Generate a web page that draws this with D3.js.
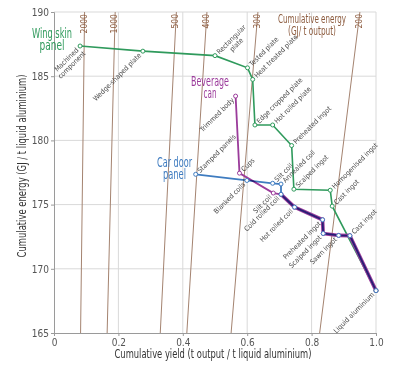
<!DOCTYPE html>
<html><head><meta charset="utf-8">
<script src="https://cdn.jsdelivr.net/npm/d3@7"></script>
<style>
body{margin:0;background:#fff;}
svg{display:block;font-family:"Liberation Sans Narrow","DejaVu Sans Condensed","Roboto",sans-serif;}
</style></head>
<body><svg id="chart" width="400" height="378"></svg>
<script>
// ---- data ----
const xTicks = [0, 0.2, 0.4, 0.6, 0.8, 1.0];
const xTickLabels = ["0", "0.2", "0.4", "0.6", "0.8", "1.0"];
const yTicks = [165, 170, 175, 180, 185, 190];
const yTickLabels = ["165", "170", "175", "180", "185", "190"];
const isoEnergies = [2000, 1000, 500, 400, 300, 200];

const wingNames = ["Machined\ncomponent", "Wedge-shaped plate", "Rectangular\nplate", "Tested plate", "Heat treated plate", "Edge cropped plate", "Hot rolled plate", "Preheated ingot", "Scalped ingot", "Homogenised ingot", "Cast ingot", "Liquid aluminium"];
const wingYield  = [0.081, 0.276, 0.500, 0.601, 0.617, 0.624, 0.679, 0.738, 0.745, 0.858, 0.864, 1.0];
const wingEnergy = [187.35, 186.95, 186.6, 185.65, 184.75, 181.2, 181.2, 179.6, 176.2, 176.12, 174.88, 168.3];
const wingSide   = ["end", "end", "start", "start", "start", "start", "start", "start", "start", "start", "start", "end"];

const canNames  = ["Trimmed body", "Cups", "Slit coil", "Cold rolled coil", "Hot rolled coil", "Preheated ingot", "Scalped ingot", "Sawn ingot", "Cast ingot", ""];
const canYield  = [0.564, 0.576, 0.681, 0.705, 0.747, 0.834, 0.836, 0.884, 0.919, 1.0];
const canEnergy = [183.45, 177.45, 175.9, 175.8, 174.8, 173.82, 172.75, 172.6, 172.58, 168.3];
const canSide   = ["end", "start", "end", "end", "end", "end", "end", "end", "start", "end"];

const doorNames  = ["Stamped panels", "Blanked coils", "Slit coil", "Annealed coil", "", "", "", "", "", "", ""];
const doorYield  = [0.440, 0.599, 0.679, 0.705, 0.705, 0.747, 0.834, 0.836, 0.884, 0.919, 1.0];
const doorEnergy = [177.36, 176.88, 176.66, 176.6, 175.8, 174.8, 173.82, 172.75, 172.6, 172.58, 168.3];
const doorSide   = ["start", "end", "start", "start", "end", "end", "end", "end", "end", "end", "end"];

// ---- setup ----
const svg = d3.select("#chart");
const x = d3.scaleLinear().domain([0, 1]).range([54, 376]);
const y = d3.scaleLinear().domain([165, 190]).range([333, 12]);

const gridColor = "#d9d9d9";
const brown = "#a48370";
const brownText = "#8c5b3e";
const green = "#2f9a5c";
const purple = "#9b3c9b";
const blue = "#3f7cc0";
const labelColor = "#4a4a4a";

// grid
svg.append("g").selectAll("line").data(xTicks.slice(1)).join("line")
  .attr("x1", d => x(d)).attr("x2", d => x(d)).attr("y1", y(165)).attr("y2", y(190))
  .attr("stroke", gridColor).attr("stroke-width", 1);
svg.append("g").selectAll("line").data(yTicks.slice(1)).join("line")
  .attr("x1", x(0)).attr("x2", x(1)).attr("y1", d => y(d)).attr("y2", d => y(d))
  .attr("stroke", gridColor).attr("stroke-width", 1);

// axes
const xAxis = svg.append("g").attr("transform", `translate(0,${y(165)})`)
  .call(d3.axisBottom(x).tickValues(xTicks).tickFormat((d, i) => xTickLabels[i]).tickSize(3).tickPadding(3));
const yAxis = svg.append("g").attr("transform", `translate(${x(0)},0)`)
  .call(d3.axisLeft(y).tickValues(yTicks).tickFormat((d, i) => yTickLabels[i]).tickSize(3).tickPadding(2));
[xAxis, yAxis].forEach(a => {
  a.select(".domain").attr("stroke", "#9a9a9a");
  a.selectAll(".tick line").attr("stroke", "#9a9a9a");
  a.selectAll(".tick text").attr("fill", "#555").style("font-size", "10px")
    .style("font-family", '"Liberation Sans Narrow","DejaVu Sans Condensed",sans-serif');
});

// iso-energy lines
const iso = svg.append("g");
iso.selectAll("line").data(isoEnergies).join("line")
  .attr("x1", d => x(190 / d)).attr("y1", y(190))
  .attr("x2", d => x(165 / d)).attr("y2", y(165))
  .attr("stroke", brown).attr("stroke-width", 1);
iso.selectAll("text").data(isoEnergies).join("text")
  .attr("transform", d => `translate(${x(190 / d) + 2},${y(190) + 2}) rotate(-90)`)
  .attr("text-anchor", "end").attr("fill", brownText).style("font-size", "8.5px")
  .text(d => d);

svg.append("text").attr("x", 312).attr("y", 23).attr("text-anchor", "middle")
  .attr("fill", brownText).style("font-size", "12px")
  .attr("textLength", 68).attr("lengthAdjust", "spacingAndGlyphs").text("Cumulative energy");
svg.append("text").attr("x", 312).attr("y", 35).attr("text-anchor", "middle")
  .attr("fill", brownText).style("font-size", "12px")
  .attr("textLength", 48).attr("lengthAdjust", "spacingAndGlyphs").text("(GJ/ t output)");

// series
function series(names, ys, es, sides, color) {
  return names.map((n, i) => ({ name: n, yield: ys[i], energy: es[i], side: sides[i], color }));
}
const wing = series(wingNames, wingYield, wingEnergy, wingSide, green);
const can = series(canNames, canYield, canEnergy, canSide, purple);
const door = series(doorNames, doorYield, doorEnergy, doorSide, blue);

const line = d3.line().x(d => x(d.yield)).y(d => y(d.energy));
svg.append("path").datum(wing).attr("d", line).attr("fill", "none").attr("stroke", green).attr("stroke-width", 1.6);
svg.append("path").datum(can).attr("d", line).attr("fill", "none").attr("stroke", purple).attr("stroke-width", 1.8);
// shared part thicker
svg.append("path").datum(can.slice(3)).attr("d", line).attr("fill", "none").attr("stroke", purple).attr("stroke-width", 3.6).attr("stroke-linejoin", "round");
svg.append("path").datum(door).attr("d", line).attr("fill", "none").attr("stroke", blue).attr("stroke-width", 1.8)
  .style("mix-blend-mode", "multiply");

// markers
[wing, can, door].forEach(s => {
  svg.append("g").selectAll("circle").data(s).join("circle")
    .attr("cx", d => x(d.yield)).attr("cy", d => y(d.energy)).attr("r", 2)
    .attr("fill", "#fff").attr("stroke", d => d.color).attr("stroke-width", 1);
});

// point labels
const lab = svg.append("g").style("font-size", "7px").attr("fill", labelColor);
[...wing, ...can, ...door].filter(d => d.name).forEach(d => {
  const g = lab.append("g").attr("transform", `translate(${x(d.yield)},${y(d.energy)}) rotate(-45)`);
  const lines = d.name.split("\n");
  const t = g.append("text").attr("dy", "0.35em");
  if (lines.length === 1) {
    t.attr("text-anchor", d.side).attr("x", d.side === "start" ? 4 : -4).text(lines[0]);
  } else {
    const tsp = lines.map((l, i) => t.append("tspan").text(l).attr("dy", i ? "1.05em" : null));
    const w0 = tsp[0].node().getComputedTextLength();
    const cx = d.side === "start" ? 4 + w0 / 2 : -4 - w0 / 2;
    t.attr("text-anchor", "middle");
    tsp.forEach(s => s.attr("x", cx));
  }
});

// series titles
function title(lines, cx, y0, color, lens) {
  lines.forEach((l, i) => {
    svg.append("text").attr("x", cx).attr("y", y0 + i * 12).attr("text-anchor", "middle")
      .attr("fill", color).style("font-size", "14px")
      .attr("textLength", lens[i]).attr("lengthAdjust", "spacingAndGlyphs").text(l);
  });
}
title(["Wing skin", "panel"], 52, 38, green, [40, 25]);
title(["Beverage", "can"], 210, 86, purple, [38, 13]);
title(["Car door", "panel"], 174.5, 167, blue, [35, 23]);

// axis titles
svg.append("text").attr("x", 213).attr("y", 358).attr("text-anchor", "middle")
  .attr("fill", "#333").style("font-size", "13px")
  .attr("textLength", 197).attr("lengthAdjust", "spacingAndGlyphs")
  .text("Cumulative yield (t output / t liquid aluminium)");
svg.append("text").attr("transform", "translate(26,166) rotate(-90)").attr("text-anchor", "middle")
  .attr("fill", "#333").style("font-size", "13px")
  .attr("textLength", 183).attr("lengthAdjust", "spacingAndGlyphs")
  .text("Cumulative energy (GJ / t liquid aluminium)");
</script></body></html>
